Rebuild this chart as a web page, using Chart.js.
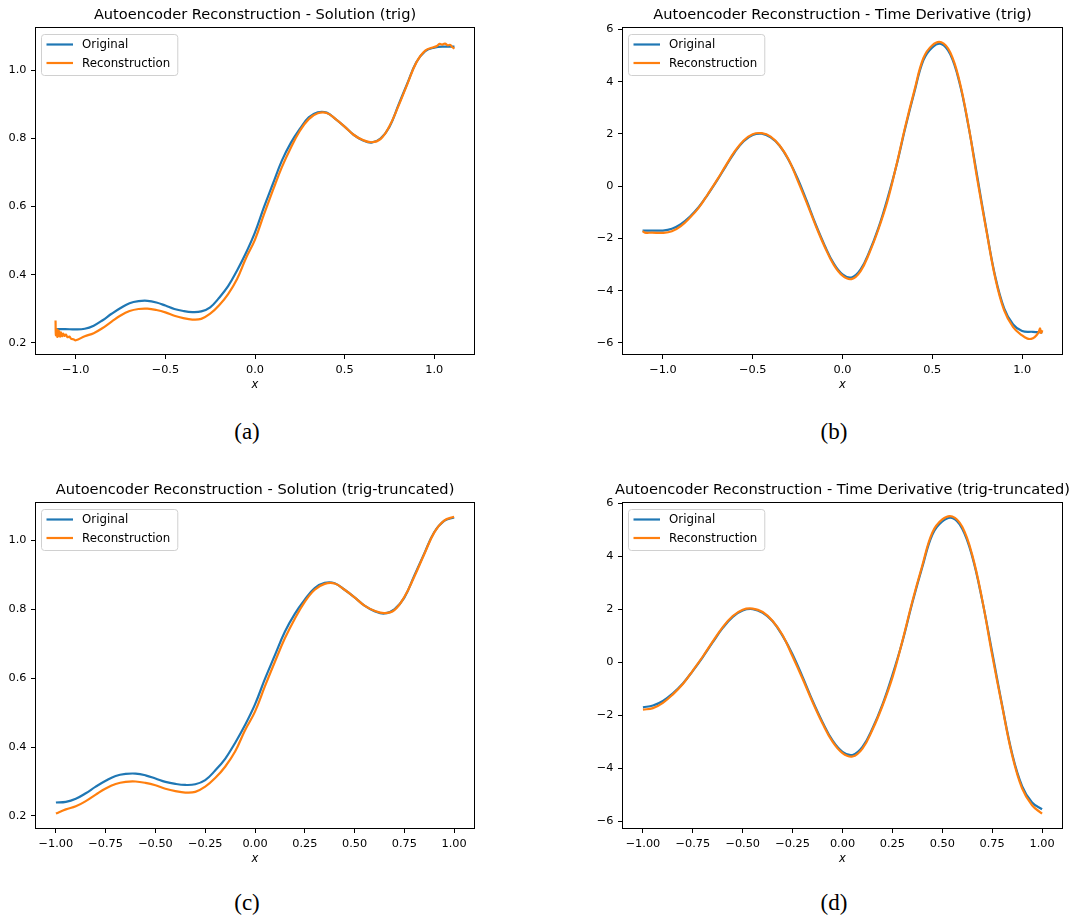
<!DOCTYPE html>
<html>
<head>
<meta charset="utf-8">
<script src="https://cdn.jsdelivr.net/npm/chart.js@4.4.1/dist/chart.umd.min.js"></script>
<style>
  html, body { margin: 0; padding: 0; background: #fff; overflow: hidden; }
  body { width: 1073px; height: 920px; position: relative; }
  canvas { position: absolute; }
  .caption {
    position: absolute;
    font-family: 'Liberation Serif', 'DejaVu Serif', serif;
    font-size: 23px;
    color: #000;
    transform: translate(-50%, -50%);
    white-space: nowrap;
  }
</style>
</head>
<body>
<canvas id="chartA" width="510" height="392" style="left:0px;top:0px"></canvas>
<canvas id="chartB" width="510" height="392" style="left:588px;top:0px"></canvas>
<canvas id="chartC" width="510" height="391" style="left:0px;top:475px"></canvas>
<canvas id="chartD" width="510" height="391" style="left:588px;top:475px"></canvas>
<div class="caption" style="left:247px;top:432px">(a)</div>
<div class="caption" style="left:834px;top:432px">(b)</div>
<div class="caption" style="left:247px;top:903px">(c)</div>
<div class="caption" style="left:834px;top:903px">(d)</div>
<script>
// shared x grid on [-1, 1]
const xTrunc = [-1.00, -0.95, -0.90, -0.85, -0.80, -0.75, -0.70, -0.65, -0.60, -0.55, -0.50,
  -0.45, -0.40, -0.35, -0.30, -0.25, -0.20, -0.15, -0.10, -0.05, 0.00, 0.05, 0.10, 0.15, 0.20,
  0.25, 0.30, 0.35, 0.40, 0.45, 0.50, 0.55, 0.60, 0.65, 0.70, 0.75, 0.80, 0.85, 0.90, 0.95, 1.00];

const solOriginal = [0.239, 0.241, 0.250, 0.266, 0.285, 0.302, 0.316, 0.322, 0.323, 0.318, 0.309,
  0.299, 0.293, 0.290, 0.292, 0.304, 0.332, 0.366, 0.412, 0.464, 0.524, 0.598, 0.667, 0.735, 0.787,
  0.828, 0.862, 0.877, 0.876, 0.857, 0.835, 0.811, 0.795, 0.788, 0.800, 0.834, 0.898, 0.962, 1.024, 1.057, 1.067];
const solRecon = [0.207, 0.219, 0.228, 0.243, 0.262, 0.280, 0.293, 0.299, 0.300, 0.296, 0.289,
  0.279, 0.272, 0.268, 0.270, 0.285, 0.310, 0.343, 0.387, 0.449, 0.503, 0.577, 0.648, 0.716, 0.773,
  0.822, 0.857, 0.874, 0.875, 0.857, 0.835, 0.811, 0.796, 0.789, 0.798, 0.836, 0.895, 0.960, 1.023, 1.058, 1.069];

const dtOriginal = [-1.70, -1.63, -1.46, -1.17, -0.80, -0.32, 0.20, 0.76, 1.30, 1.72, 1.96,
  2.01, 1.87, 1.55, 1.00, 0.30, -0.55, -1.45, -2.26, -2.95, -3.38, -3.50, -3.20, -2.50, -1.60,
  -0.48, 0.78, 2.25, 3.60, 4.82, 5.32, 5.45, 5.05, 4.00, 2.35, 0.38, -1.62, -3.45, -4.68, -5.30, -5.55];
const dtRecon = [-1.79, -1.73, -1.53, -1.21, -0.82, -0.31, 0.22, 0.79, 1.33, 1.75, 1.99,
  2.03, 1.90, 1.56, 1.02, 0.22, -0.62, -1.50, -2.31, -3.00, -3.43, -3.56, -3.26, -2.55, -1.65,
  -0.58, 0.80, 2.30, 3.66, 4.90, 5.40, 5.51, 5.12, 4.06, 2.37, 0.28, -1.66, -3.50, -4.76, -5.40, -5.72];

// the "trig" runs go a bit past +-1
const trigLeftX = [-1.113, -1.06];
const trigRightX = [1.06, 1.113];
const solOrigLeft = [0.240, 0.240];
const solOrigRight = [1.070, 1.070];
const dtOrigLeft = [-1.70, -1.70];
const dtOrigRight = [-5.58, -5.60];

const solReconLeftX = [-1.113, -1.111, -1.107, -1.103, -1.099, -1.095, -1.091, -1.087, -1.082,
  -1.076, -1.070, -1.063, -1.055, -1.046, -1.036, -1.025, -1.013];
const solReconLeft = [0.265, 0.222, 0.240, 0.217, 0.236, 0.219, 0.233, 0.218, 0.230,
  0.219, 0.227, 0.220, 0.224, 0.216, 0.218, 0.211, 0.210];
const solReconRightX = [1.015, 1.030, 1.045, 1.060, 1.075, 1.090, 1.100, 1.113];
const solReconRight = [1.072, 1.078, 1.076, 1.079, 1.074, 1.075, 1.069, 1.064];

const dtReconLeftX = [-1.113, -1.10, -1.06];
const dtReconLeft = [-1.72, -1.78, -1.78];
const dtReconRightX = [1.03, 1.05, 1.07, 1.09, 1.10, 1.105, 1.113];
const dtReconRight = [-5.84, -5.85, -5.78, -5.62, -5.45, -5.62, -5.52];

const titles = [
  'Autoencoder Reconstruction - Solution (trig)',
  'Autoencoder Reconstruction - Time Derivative (trig)',
  'Autoencoder Reconstruction - Solution (trig-truncated)',
  'Autoencoder Reconstruction - Time Derivative (trig-truncated)'
];
const legendLabels = ['Original', 'Reconstruction'];

const xTicksTrig = [-1.0, -0.5, 0.0, 0.5, 1.0];
const xTicksTrunc = [-1.0, -0.75, -0.5, -0.25, 0.0, 0.25, 0.5, 0.75, 1.0];
const yTicksSol = [0.2, 0.4, 0.6, 0.8, 1.0];
const yTicksDt = [-6, -4, -2, 0, 2, 4, 6];

const BLUE = '#1f77b4';
const ORANGE = '#ff7f0e';
const FONT = 'DejaVu Sans';
Chart.defaults.font.family = FONT;

function series(xs, ys) {
  return xs.map((x, i) => ({ x: x, y: ys[i] }));
}

function fmt(v, d) {
  return v.toFixed(d).replace('-', '\u2212');
}

// matplotlib-like frame, title centred on the axes, and legend
const mplPlugin = {
  id: 'mpl',
  afterDatasetsDraw(chart, args, opts) {
    const { ctx, chartArea: a } = chart;
    ctx.save();
    ctx.strokeStyle = '#000';
    ctx.lineWidth = 1;
    ctx.strokeRect(a.left - 0.5, a.top - 0.5, a.right - a.left + 1, a.bottom - a.top + 1);

    ctx.fillStyle = '#000';
    ctx.font = '14.6px ' + FONT;
    ctx.textAlign = 'center';
    ctx.textBaseline = 'middle';
    ctx.fillText(opts.title, (a.left + a.right) / 2, a.top - 13);

    ctx.font = '11.8px ' + FONT;
    const tw = Math.max(...legendLabels.map(t => ctx.measureText(t).width));
    const bx = a.left + 5, by = a.top + 6, bw = 41 + tw + 7, bh = 41;
    ctx.beginPath();
    ctx.roundRect(bx + 0.5, by + 0.5, bw, bh, 3);
    ctx.fillStyle = 'rgba(255,255,255,0.8)';
    ctx.fill();
    ctx.strokeStyle = '#d0d0d0';
    ctx.stroke();
    const colors = [BLUE, ORANGE];
    const rowY = [by + 10.5, by + 29];
    legendLabels.forEach((t, i) => {
      ctx.beginPath();
      ctx.strokeStyle = colors[i];
      ctx.lineWidth = 2.2;
      ctx.moveTo(bx + 5.5, rowY[i]);
      ctx.lineTo(bx + 32, rowY[i]);
      ctx.stroke();
      ctx.fillStyle = '#000';
      ctx.textBaseline = 'middle';
      ctx.textAlign = 'left';
      ctx.fillText(t, bx + 41, rowY[i] + 0.5);
    });
    ctx.restore();
  }
};

function makePanel(p) {
  const tickFont = { family: FONT, size: 11.3 };
  new Chart(document.getElementById(p.id), {
    type: 'scatter',
    data: {
      datasets: [
        { label: legendLabels[0], data: series(p.origX, p.origY), order: 1,
          showLine: true, borderColor: BLUE, borderWidth: 2.2, pointRadius: 0, tension: 0.4 },
        { label: legendLabels[1], data: series(p.recX, p.recY), order: 0,
          showLine: true, borderColor: ORANGE, borderWidth: 2.2, pointRadius: 0, tension: 0.4 }
      ]
    },
    options: {
      responsive: false,
      animation: false,
      events: [],
      layout: { padding: { left: 0, right: p.padRight, top: 28, bottom: 0 } },
      plugins: {
        legend: { display: false },
        tooltip: { enabled: false },
        title: { display: false },
        mpl: { title: p.title }
      },
      scales: {
        x: {
          type: 'linear', min: p.xMin, max: p.xMax,
          afterBuildTicks: s => { s.ticks = p.xTicks.map(v => ({ value: v })); },
          afterFit: s => { s.height = 38; },
          ticks: { callback: v => fmt(v, p.xDec), color: '#000', font: tickFont,
                   padding: 4, maxRotation: 0, autoSkip: false },
          grid: { drawOnChartArea: false, drawTicks: true, tickLength: 5,
                  tickColor: '#000', tickWidth: 1 },
          border: { display: false },
          title: { display: true, text: 'x', color: '#000',
                   font: { family: FONT, size: 11.5, style: 'italic', lineHeight: 1.2 },
                   padding: { top: 0, bottom: 0 } }
        },
        y: {
          type: 'linear', min: p.yMin, max: p.yMax,
          afterBuildTicks: s => { s.ticks = p.yTicks.map(v => ({ value: v })); },
          afterFit: s => { s.width = p.yWidth; },
          ticks: { callback: v => fmt(v, p.yDec), color: '#000', font: tickFont,
                   padding: 4.5, autoSkip: false },
          grid: { drawOnChartArea: false, drawTicks: true, tickLength: 5,
                  tickColor: '#000', tickWidth: 1 },
          border: { display: false }
        }
      }
    },
    plugins: [mplPlugin]
  });
}

const trigX = trigLeftX.concat(xTrunc, trigRightX);

makePanel({
  id: 'chartA', title: titles[0], yWidth: 36, padRight: 36,
  origX: trigX, origY: solOrigLeft.concat(solOriginal, solOrigRight),
  recX: solReconLeftX.concat(xTrunc, solReconRightX), recY: solReconLeft.concat(solRecon, solReconRight),
  xMin: -1.222, xMax: 1.222, yMin: 0.1667, yMax: 1.1247,
  xTicks: xTicksTrig, xDec: 1, yTicks: yTicksSol, yDec: 1
});
makePanel({
  id: 'chartB', title: titles[1], yWidth: 35, padRight: 36,
  origX: trigX, origY: dtOrigLeft.concat(dtOriginal, dtOrigRight),
  recX: dtReconLeftX.concat(xTrunc, dtReconRightX), recY: dtReconLeft.concat(dtRecon, dtReconRight),
  xMin: -1.222, xMax: 1.222, yMin: -6.43, yMax: 6.06,
  xTicks: xTicksTrig, xDec: 1, yTicks: yTicksDt, yDec: 0
});
makePanel({
  id: 'chartC', title: titles[2], yWidth: 36, padRight: 36,
  origX: xTrunc, origY: solOriginal,
  recX: xTrunc, recY: solRecon,
  xMin: -1.1, xMax: 1.1, yMin: 0.165, yMax: 1.109,
  xTicks: xTicksTrunc, xDec: 2, yTicks: yTicksSol, yDec: 1
});
makePanel({
  id: 'chartD', title: titles[3], yWidth: 35, padRight: 36,
  origX: xTrunc, origY: dtOriginal,
  recX: xTrunc, recY: dtRecon,
  xMin: -1.1, xMax: 1.1, yMin: -6.26, yMax: 6.02,
  xTicks: xTicksTrunc, xDec: 2, yTicks: yTicksDt, yDec: 0
});
</script>
</body>
</html>
